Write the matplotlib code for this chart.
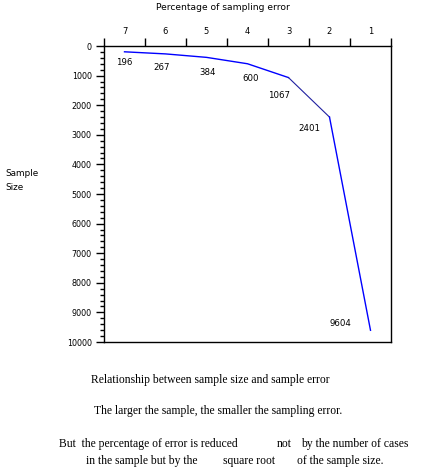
import matplotlib
matplotlib.use("Agg")
import matplotlib.pyplot as plt
from matplotlib.ticker import MultipleLocator, FixedLocator

# Data
error_pct = [7, 6, 5, 4, 3, 2, 1]
sample_size = [196, 267, 384, 600, 1067, 2401, 9604]
label_offsets = [(0, -11), (-4, -14), (1, -15), (3, -15), (-9, -18), (-20, -11), (-30, 7)]

W, H = 442, 470
fig = plt.figure(figsize=(W / 100, H / 100), dpi=100)
ax = fig.add_axes([104 / W, 1 - 342 / H, (391 - 104) / W, (342 - 46) / H])

n = len(error_pct)
xpos = [i + 0.5 for i in range(n)]

# line segments (the 3 -> 2 segment is thinner/darker)
ax.plot(xpos[:5], sample_size[:5], color="#0000ff", lw=1.0)
ax.plot(xpos[4:6], sample_size[4:6], color="#2020a0", lw=0.8)
ax.plot(xpos[5:], sample_size[5:], color="#0000ff", lw=1.0)

for xp, v, off in zip(xpos, sample_size, label_offsets):
    ax.annotate(str(v), (xp, v), xytext=off, textcoords="offset pixels",
                ha="center", va="center", fontsize=6.2, family="DejaVu Sans")

ax.set_xlim(0, n)
ax.set_ylim(10000, 0)

ax.xaxis.set_ticks_position("top")
ax.xaxis.set_major_locator(FixedLocator(range(n + 1)))
ax.xaxis.set_minor_locator(FixedLocator(xpos))
ax.set_xticklabels([])
ax.set_xticklabels([str(e) for e in error_pct], minor=True)
ax.tick_params(axis="x", which="major", direction="out", length=6, width=1, top=True, bottom=False)
ax.tick_params(axis="x", which="minor", length=0, pad=7.5, labelsize=6, top=True, bottom=False,
               labeltop=True, labelbottom=False)

ax.yaxis.set_major_locator(MultipleLocator(1000))
ax.yaxis.set_minor_locator(MultipleLocator(200))
ax.tick_params(axis="y", which="major", direction="out", length=6, width=1, labelsize=5.8, pad=2.7)
ax.tick_params(axis="y", which="minor", direction="out", length=3, width=1)

for s in ax.spines.values():
    s.set_linewidth(1.0)

fig.text(223 / W, 1 - 8 / H, "Percentage of sampling error", ha="center", va="center",
         fontsize=6.6, family="DejaVu Sans")
fig.text(5 / W, 1 - 174 / H, "Sample", ha="left", va="center", fontsize=6.4, family="DejaVu Sans")
fig.text(5 / W, 1 - 188 / H, "Size", ha="left", va="center", fontsize=6.4, family="DejaVu Sans")

serif = "Liberation Serif"
fs = 8.4
fig.text(210 / W, 1 - 380 / H, "Relationship between sample size and sample error",
         ha="center", va="center", fontsize=fs, family=serif)
fig.text(94 / W, 1 - 411 / H, "The larger the sample, the smaller the sampling error.",
         ha="left", va="center", fontsize=fs, family=serif)
# note lines, phrases placed as in the reference
fig.text(59 / W, 1 - 444 / H, "But  the percentage of error is reduced",
         ha="left", va="center", fontsize=fs, family=serif)
fig.text(277 / W, 1 - 444 / H, "not", ha="left", va="center", fontsize=fs, family=serif)
fig.text(408 / W, 1 - 444 / H, "by the number of cases",
         ha="right", va="center", fontsize=fs, family=serif)
fig.text(86 / W, 1 - 461 / H, "in the sample but by the",
         ha="left", va="center", fontsize=fs, family=serif)
fig.text(223 / W, 1 - 461 / H, "square root", ha="left", va="center", fontsize=fs, family=serif)
fig.text(297 / W, 1 - 461 / H, "of the sample size.",
         ha="left", va="center", fontsize=fs, family=serif)

fig.savefig("out.png", dpi=100)
